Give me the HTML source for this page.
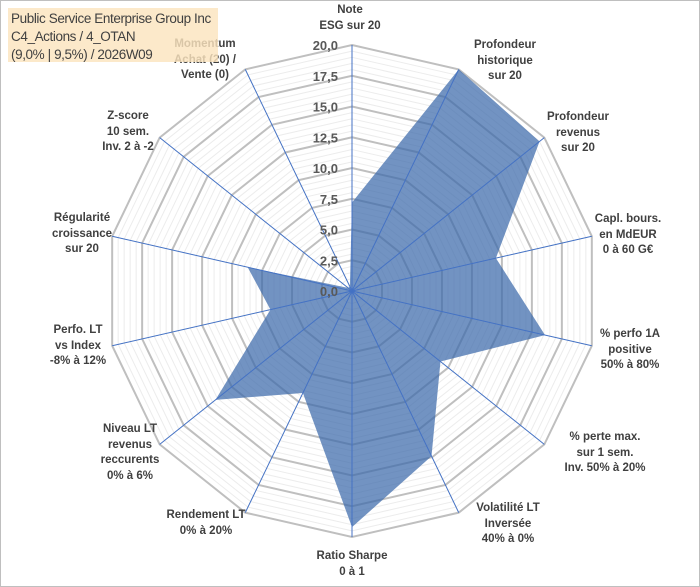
<!DOCTYPE html>
<html><head><meta charset="utf-8"><style>
body{margin:0;background:#fff}
#wrap{position:relative;width:700px;height:587px;overflow:hidden;font-family:"Liberation Sans",sans-serif}
.lbl{position:absolute;font-weight:bold;font-size:11.5px;color:#404040;text-align:center;line-height:15.5px;white-space:nowrap;transform:translateX(-50%)}
</style></head><body>
<div id="wrap">
<svg id="svg" width="700" height="587" style="position:absolute;left:0;top:0">
<rect x="0.5" y="0.5" width="699" height="586" fill="#fff" stroke="#bfbfbf"/>
<g id="grid"></g><g id="series"></g><g id="spokes"></g><g id="ticks"></g>
</svg>
<div id="labels"></div>
<div style="position:absolute;left:8px;top:8px;width:210px;height:54px;background:rgba(251,228,190,0.82)"></div>
<div style="position:absolute;left:11px;top:10px;font-size:13.5px;line-height:18px;color:#404040;font-family:'Liberation Sans',sans-serif;letter-spacing:-0.4px">Public Service Enterprise Group Inc<br>C4_Actions / 4_OTAN<br>(9,0% | 9,5%) / 2026W09</div>
</div>
<script>
const categories=["Note<br>ESG sur 20","Profondeur<br>historique<br>sur 20","Profondeur<br>revenus<br>sur 20","Capl. bours.<br>en MdEUR<br>0 à 60 G€","% perfo 1A<br>positive<br>50% à 80%","% perte max.<br>sur 1 sem.<br>Inv. 50% à 20%","Volatilité LT<br>Inversée<br>40% à 0%","Ratio Sharpe<br>0 à 1","Rendement LT<br>0% à 20%","Niveau LT<br>revenus<br>reccurents<br>0% à 6%","Perfo. LT<br>vs Index<br>-8% à 12%","Régularité<br>croissance<br>sur 20","Z-score<br>10 sem.<br>Inv. 2 à -2","Momentum<br>Achat (20) /<br>Vente (0)"];
const values=[7.2,20,19.5,12,16.1,9.2,14.9,19.2,9.2,14.2,6.8,8.7,0.4,0.4];
const tickLabels=["0,0","2,5","5,0","7,5","10,0","12,5","15,0","17,5","20,0"];
const maxVal=20;
const labelPos=[[350,3],[505,38],[578,110],[628,212],[630,327],[605,430],[508,501],[352,549],[206,508],[130,422],[78,323],[82,211],[128,109],[205,37]];
const cx=352,cy=291,R=246,N=categories.length;
const NS="http://www.w3.org/2000/svg";
function ang(i){return i*2*Math.PI/N;}
function pt(i,v){const r=v/maxVal*R;return [cx+r*Math.sin(ang(i)),cy-r*Math.cos(ang(i))];}
function mk(tag,attrs,parent){const e=document.createElementNS(NS,tag);for(const k in attrs)e.setAttribute(k,attrs[k]);parent.appendChild(e);return e;}
const grid=document.getElementById('grid');
for(let s=1;s<=40;s++){const v=s*0.5;const major=(s%5===0);
 const p=[];for(let i=0;i<N;i++)p.push(pt(i,v).join(','));
 const g=mk('polygon',{points:p.join(' '),fill:'none',stroke:major?'#bfbfbf':'#ececec','stroke-width':major?2:1},grid);
 
 }
const ser=document.getElementById('series');
const sp=values.map((v,i)=>pt(i,v).join(',')).join(' ');
const poly=mk('polygon',{points:sp,fill:'rgba(60,106,170,0.72)',stroke:'none'},ser);


const spokes=document.getElementById('spokes');
for(let i=0;i<N;i++){const [x,y]=pt(i,maxVal);
 const l=mk('line',{x1:cx,y1:cy,x2:x,y2:y,stroke:'#4472c4','stroke-width':1},spokes);
 
 }
const ticks=document.getElementById('ticks');
tickLabels.forEach((t,k)=>{const y=cy-(k*2.5)/maxVal*R;
 const tx=mk('text',{x:338,y:y+5,'text-anchor':'end','font-size':13,'font-weight':'bold',fill:'#595959','font-family':'Liberation Sans, sans-serif'},ticks);
 tx.textContent=t;
 
 });
const lab=document.getElementById('labels');
categories.forEach((c,i)=>{const d=document.createElement('div');d.className='lbl';
 d.style.left=labelPos[i][0]+'px';d.style.top=labelPos[i][1]+'px';d.innerHTML=c;
 
 
 lab.appendChild(d);});
</script>
</body></html>
